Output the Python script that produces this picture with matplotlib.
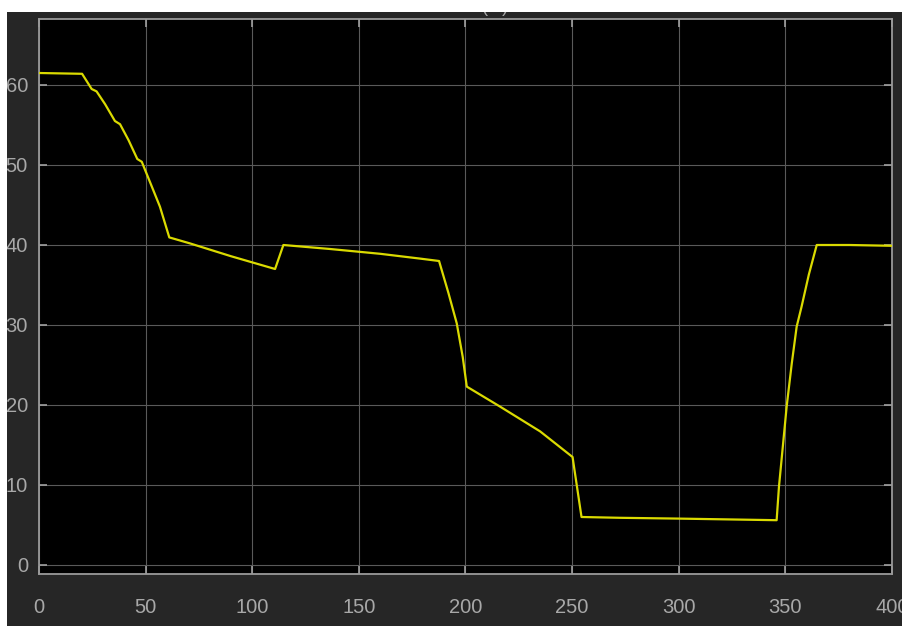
import matplotlib.pyplot as plt
from matplotlib.patches import Rectangle

t = [0, 10, 20.2, 24.7, 27.0, 31, 35.6, 38.0, 42, 46.1, 48.2, 52, 56.7, 61.1,
     70.8, 90, 110.7, 114.6, 136.5, 160, 178.7, 187.6, 192, 195.9, 198.7, 200.6,
     216.2, 235.0, 250.2, 254.4, 272.4, 300, 345.9, 347.0, 350.6, 353.0, 355.3, 357.6,
     361.0, 364.7, 380, 400]
v = [61.5, 61.45, 61.4, 59.5, 59.2, 57.6, 55.5, 55.1, 53.1, 50.75, 50.4, 47.9, 44.8, 40.95,
     40.2, 38.6, 37.0, 40.0, 39.5, 38.9, 38.3, 38.0, 34.0, 30.2, 26.0, 22.3,
     19.8, 16.7, 13.5, 6.0, 5.9, 5.8, 5.6, 9.8, 19.8, 25.2, 29.8, 32.3,
     36.3, 40.0, 40.0, 39.9]

xticks = [0, 50, 100, 150, 200, 250, 300, 350, 400]
yticks = [0, 10, 20, 30, 40, 50, 60]

W, H = 903, 626
fig = plt.figure(figsize=(W / 100, H / 100), dpi=100)
fig.patch.set_facecolor('white')

# dark matlab-style figure area
fig.add_artist(Rectangle((7 / W, 0), 1 - 7 / W, 1 - 12 / H, transform=fig.transFigure,
                         facecolor='#262626', edgecolor='none', zorder=-10))

ax = fig.add_axes([39 / W, 52 / H, (892 - 39) / W, (574 - 19) / H])
ax.set_facecolor('black')
ax.plot(t, v, color='#dada00', lw=1.6, zorder=3)

ax.set_xlim(0, 400)
ax.set_ylim(-1.125, 68.25)
ax.set_xticks(xticks)
ax.set_yticks(yticks)
ax.grid(True, color='#5a5a5a', lw=0.8)

tick_font = dict(family=['Liberation Sans', 'DejaVu Sans'], size=14.5)
ax.set_xticklabels([str(x) for x in xticks], color='#a8a8a8', **tick_font)
ax.set_yticklabels([str(y) for y in yticks], color='#a8a8a8', **tick_font)
ax.tick_params(axis='both', direction='in', color='#a0a0a0', length=6, width=1.2,
               top=True, right=True)
ax.tick_params(axis='x', pad=17)
ax.tick_params(axis='y', pad=8)
for s in ax.spines.values():
    s.set_color('#9a9a9a')
    s.set_linewidth(1.3)

# cut-off title fragment at the very top
fig.text(495 / W, 1 - 12 / H, '(m)', ha='center', va='baseline', color='#a8a8a8',
         fontsize=13, family=['Liberation Sans', 'DejaVu Sans'], zorder=1)

# white margins (clip title and left tick labels)
fig.add_artist(Rectangle((0, 1 - 12 / H), 1, 12 / H, transform=fig.transFigure,
                         facecolor='white', edgecolor='none', zorder=20))
fig.add_artist(Rectangle((0, 0), 7 / W, 1, transform=fig.transFigure,
                         facecolor='white', edgecolor='none', zorder=20))

fig.savefig('out.png', dpi=100, facecolor=fig.get_facecolor())
